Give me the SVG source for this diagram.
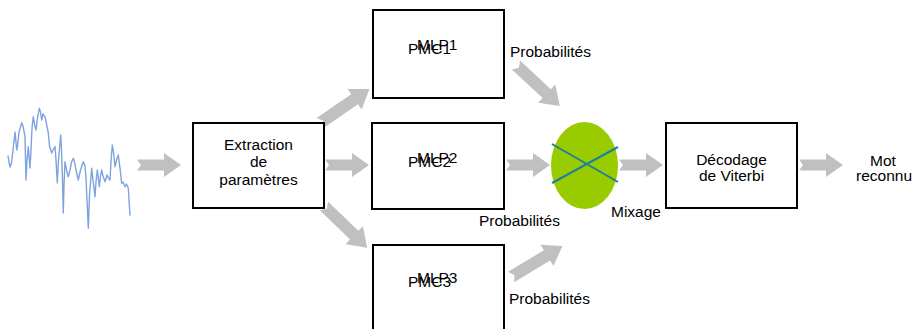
<svg xmlns="http://www.w3.org/2000/svg" xmlns:xlink="http://www.w3.org/1999/xlink" width="913" height="329" viewBox="0 0 913 329">
<style>
.box{fill:#fff;stroke:#000;stroke-width:2}
.t{font-family:"Liberation Sans",Arial,sans-serif;font-size:15.5px;fill:#000}
.m{text-anchor:middle}
.arr{fill:#C0C0C0}
.wave{fill:none;stroke:#7FA3DE;stroke-width:1.4;stroke-linejoin:round;stroke-linecap:round}
</style>
<defs>
<path id="arrH" d="M0,-5.5 H27 V-12 L44,0 L27,12 V5.5 H0 L4,0 Z"/>
<path id="arrD" d="M0,-6 H42 V-12.5 L60,0 L42,12.5 V6 H0 L4,0 Z"/>
</defs>
<g id="signal">
<polyline class="wave" points="8,156 9,162 10,167 11.5,163 13,150 15,132 16,142 16.7,150 17.5,146 19,132 21.7,122.7 23,126 25,136.7 25.5,160 26,180 27,160 28.3,146.7 29,156 30,168 31,150 32,128 33.3,116.7 34.5,124 36,130 37.5,118 39.3,108.3 40.5,112 41.7,120 43,114 45,116.7 46.5,124 48.3,133 49.5,146 51.7,153 53,150 55,146.7 56,160 57.3,183 58.5,160 60.7,135 61.5,150 62.5,180 63.3,213 64,185 65,161.7 66.5,170 68.3,176.7 70,170 71.5,162 73.3,158.3 75,164 76,170 78.3,180 80.5,170 83.3,161.7 85,166 86,178 87,200 88.3,228.3 89.5,195 91.7,168.3 93,180 95,196.7 96,182 97.3,170 98.3,178 99.3,186.7 100.5,176 101.7,170 103,176 105,181.7 107,175 108.5,178 110,180 111,162 112.3,145 113.5,152 115,166.7 116.5,160 118.3,155 120,168 121.7,183.3 123,182 125,186.7 126.5,184 128.3,188.3 129,200 130,215"/>
</g>
<g id="connectors">
<use href="#arrH" class="arr" transform="translate(137,165)"/>
<use href="#arrH" class="arr" transform="translate(325,165)"/>
<use href="#arrH" class="arr" transform="translate(506,165)"/>
<use href="#arrH" class="arr" transform="translate(619,165)"/>
<use href="#arrH" class="arr" transform="translate(799,165)"/>
<use href="#arrD" class="arr" transform="translate(320,123) rotate(-34.5)"/>
<use href="#arrD" class="arr" transform="translate(324,206) rotate(44)"/>
<use href="#arrD" class="arr" transform="translate(516,65) rotate(43)"/>
<use href="#arrD" class="arr" transform="translate(511,277) rotate(-31)"/>
</g>
<g id="extraction">
<rect class="box" x="193" y="123" width="131" height="85"/>
<text class="t m" x="258.5" y="149.5">Extraction</text>
<text class="t m" x="258.5" y="167">de</text>
<text class="t m" x="258.5" y="184.5">paramètres</text>
</g>
<g id="mlp1">
<rect class="box" x="373" y="10" width="131" height="88"/>
<text class="t" x="408" y="54">PMC1</text>
<text class="t" x="417" y="50">MLP1</text>
</g>
<g id="mlp2">
<rect class="box" x="372" y="123" width="132" height="86"/>
<text class="t" x="408" y="167">PMC2</text>
<text class="t" x="417" y="163">MLP2</text>
</g>
<g id="mlp3">
<rect class="box" x="373" y="245" width="131" height="90"/>
<text class="t" x="408" y="287">PMC3</text>
<text class="t" x="417" y="283">MLP3</text>
</g>
<g id="mixage">
<ellipse cx="584.5" cy="165.5" rx="33.5" ry="43.5" fill="#99CC00"/>
<line x1="552" y1="144" x2="618" y2="182" stroke="#1F7F99" stroke-width="2"/>
<line x1="552" y1="183" x2="618" y2="147" stroke="#1F7F99" stroke-width="2"/>
<text class="t" x="611" y="217">Mixage</text>
</g>
<g id="viterbi">
<rect class="box" x="666" y="123" width="131" height="85"/>
<text class="t m" x="731.5" y="165">Décodage</text>
<text class="t m" x="731.5" y="181">de Viterbi</text>
</g>
<g id="output">
<text class="t m" x="883" y="166">Mot</text>
<text class="t m" x="884" y="181">reconnu</text>
</g>
<g id="labels">
<text class="t" x="510" y="57">Probabilités</text>
<text class="t" x="479" y="226">Probabilités</text>
<text class="t" x="509" y="304">Probabilités</text>
</g>
</svg>
